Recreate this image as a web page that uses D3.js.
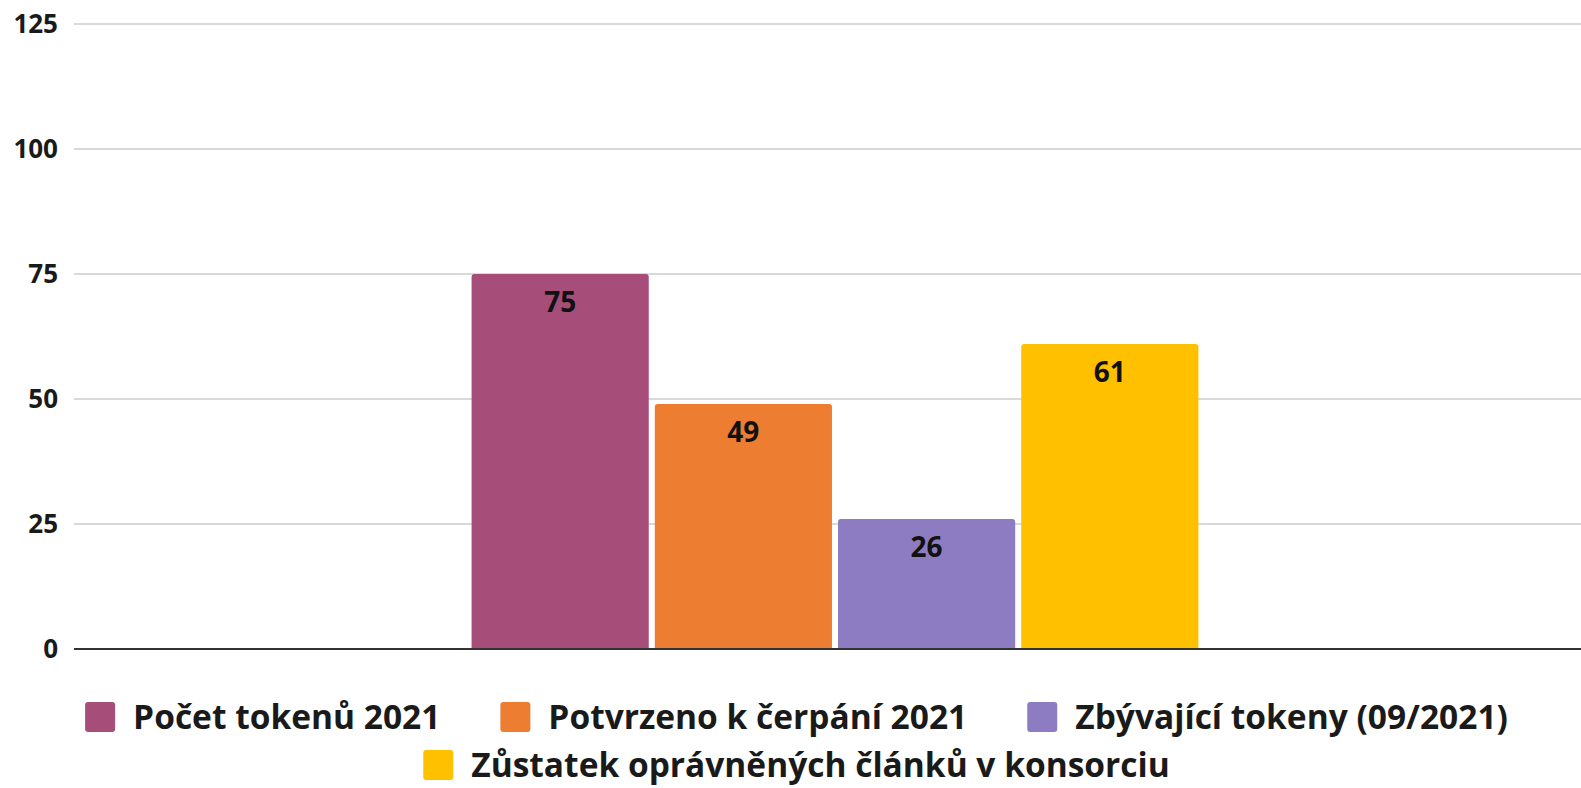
<!DOCTYPE html>
<html>
<head>
<meta charset="utf-8">
<script src="https://cdn.jsdelivr.net/npm/d3@7"></script>
<style>
  html, body { margin:0; padding:0; background:#fff; }
  svg { display:block; font-family:"Open Sans", sans-serif; }
</style>
</head>
<body>
<svg id="chart" width="1581" height="788"></svg>
<script>
const categories = ["2021"];
const seriesNames = ["Počet tokenů 2021", "Potvrzeno k čerpání 2021", "Zbývající tokeny (09/2021)", "Zůstatek oprávněných článků v konsorciu"];
const seriesValues = [75, 49, 26, 61];
const seriesColors = ["#a64d79", "#ed7d31", "#8e7cc3", "#ffc000"];
const yTicks = [0, 25, 50, 75, 100, 125];

const W = 1581, H = 788;
const m = { left: 74, right: -15, top: 24, bottom: 139 };
const svg = d3.select("#chart");

const y = d3.scaleLinear().domain([0, 125]).range([H - m.bottom, m.top]);
const x0 = d3.scaleBand().domain(categories).range([m.left, W - m.right]).paddingOuter(0.547);
const x1 = d3.scaleBand().domain(seriesNames).range([0, x0.bandwidth()]).paddingInner(0.033);

// gridlines
svg.append("g").selectAll("line").data(yTicks.filter(t => t > 0)).enter().append("line")
  .attr("x1", m.left).attr("x2", W)
  .attr("y1", d => y(d)).attr("y2", d => y(d))
  .attr("stroke", "#cccccc").attr("stroke-width", 1.6);

// y labels
svg.append("g").selectAll("text").data(yTicks).enter().append("text")
  .attr("x", 58).attr("y", d => y(d)).attr("dy", "0.36em")
  .attr("text-anchor", "end").attr("fill", "#1a1a1a")
  .style("font-size", "26px").style("font-weight", 700)
  .text(d => d);

// bars with rounded top
const r = 3;
const bars = seriesNames.map((n, i) => ({ name: n, value: seriesValues[i], color: seriesColors[i] }));
function topRounded(x, yt, w, yb) {
  return `M${x},${yb} V${yt + r} Q${x},${yt} ${x + r},${yt} H${x + w - r} Q${x + w},${yt} ${x + w},${yt + r} V${yb} Z`;
}
const g = svg.append("g").attr("transform", `translate(${x0(categories[0])},0)`);
g.selectAll("path").data(bars).enter().append("path")
  .attr("d", d => topRounded(x1(d.name), y(d.value), x1.bandwidth(), y(0)))
  .attr("fill", d => d.color);
g.selectAll("text").data(bars).enter().append("text")
  .attr("x", d => x1(d.name) + x1.bandwidth() / 2)
  .attr("y", d => y(d.value) + 38)
  .attr("text-anchor", "middle").attr("fill", "#111")
  .style("font-size", "28px").style("font-weight", 700)
  .text(d => d.value);

// baseline
svg.append("line").attr("x1", m.left).attr("x2", W).attr("y1", y(0)).attr("y2", y(0))
  .attr("stroke", "#333").attr("stroke-width", 2);

// legend
const rows = [[0, 1, 2], [3]];
const rowY = [717, 765];
const sw = 30, gapSq = 18, gapItem = 60;
const leg = svg.append("g").style("font-size", "33.5px").style("font-weight", 700);
rows.forEach((row, ri) => {
  const items = row.map(i => {
    const t = leg.append("text").attr("fill", "#1a1a1a").attr("dy", "0.36em").text(seriesNames[i]);
    return { i, t, w: t.node().getComputedTextLength() };
  });
  const total = d3.sum(items, d => sw + gapSq + d.w) + gapItem * (items.length - 1);
  let cx = W / 2 + 6 - total / 2;
  items.forEach(it => {
    leg.append("rect").attr("x", cx).attr("y", rowY[ri] - sw / 2).attr("width", sw).attr("height", sw)
      .attr("rx", 3).attr("fill", seriesColors[it.i]);
    it.t.attr("x", cx + sw + gapSq).attr("y", rowY[ri]);
    cx += sw + gapSq + it.w + gapItem;
  });
});
</script>
</body>
</html>
